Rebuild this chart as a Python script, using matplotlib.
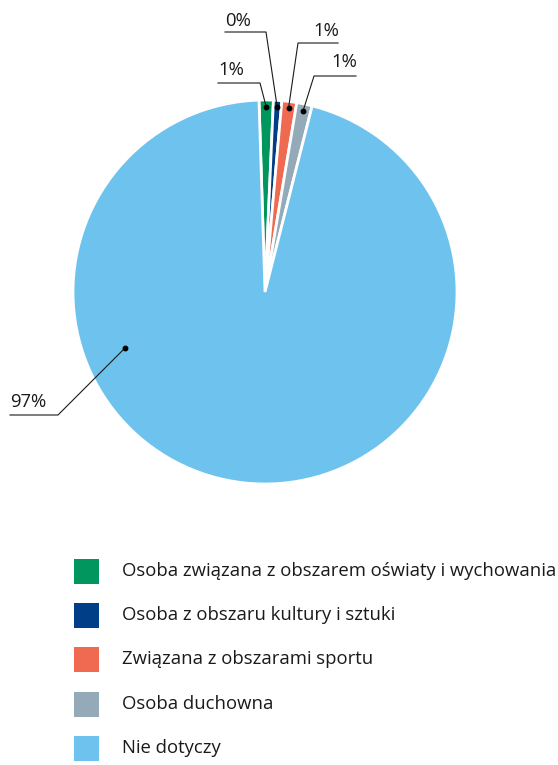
import matplotlib.pyplot as plt
from matplotlib.patches import Rectangle
import numpy as np

plt.rcParams['font.family'] = ['Open Sans', 'DejaVu Sans']

categories = ['Osoba związana z obszarem oświaty i wychowania',
              'Osoba z obszaru kultury i sztuki',
              'Związana z obszarami sportu',
              'Osoba duchowna',
              'Nie dotyczy']
values = [1.2, 0.7, 1.25, 1.3, 95.55]
pct_labels = ['1%', '0%', '1%', '1%', '97%']
colors = ['#00965e', '#003f87', '#ef6a50', '#94aab8', '#6dc2ee']

W, H = 558, 765
cx, cy, R = 265, 292, 192

fig = plt.figure(figsize=(W / 100, H / 100), dpi=100)
ax = fig.add_axes([(cx - R) / W, 1 - (cy + R) / H, 2 * R / W, 2 * R / H])
wedges, _ = ax.pie(values, colors=colors, startangle=91.8, counterclock=False,
                   radius=1, wedgeprops=dict(edgecolor='white', linewidth=2))
ax.set_xlim(-1, 1)
ax.set_ylim(-1, 1)
ax.set_aspect('equal')
ax.axis('off')


def d(px, py):
    # pixel -> data coords of the pie axes
    return (px - cx) / R, (cy - py) / R


# leader lines: (elbow px, end px, text anchor, ha)
leaders = [
    ((260, 83), (218, 83), (218, 75), 'left'),
    ((266, 32), (225, 32), (225, 26), 'left'),
    ((298, 43), (338, 43), (339, 36), 'right'),
    ((314, 76), (356, 76), (357, 67), 'right'),
]
lc = '#1a1a1a'
fs = 13.3
for i, (elb, end, tpos, ha) in enumerate(leaders):
    w = wedges[i]
    mid = np.deg2rad((w.theta1 + w.theta2) / 2)
    r = 0.965
    dx, dy = r * np.cos(mid), r * np.sin(mid)
    ex, ey = d(*elb)
    fx, fy = d(*end)
    ax.plot([dx, ex, fx], [dy, ey, fy], color=lc, lw=0.8, clip_on=False)
    ax.plot(dx, dy, 'o', color='black', ms=3.2, clip_on=False)
    tx, ty = d(*tpos)
    ax.text(tx, ty, pct_labels[i], ha=ha, va='baseline', fontsize=fs,
            color='#1a1a1a', clip_on=False)

# big slice label
dx, dy = d(125, 348)
ex, ey = d(58, 415)
fx, fy = d(10, 415)
ax.plot([dx, ex, fx], [dy, ey, fy], color=lc, lw=0.8, clip_on=False)
ax.plot(dx, dy, 'o', color='black', ms=3.2, clip_on=False)
tx, ty = d(10, 407)
ax.text(tx, ty, pct_labels[4], ha='left', va='baseline', fontsize=fs,
        color='#1a1a1a', clip_on=False)

# legend
row_y = [571, 615, 659, 704, 748]
for yy, lab, c in zip(row_y, categories, colors):
    fig.add_artist(Rectangle((74 / W, 1 - (yy + 12.5) / H), 25 / W, 25 / H,
                             transform=fig.transFigure, facecolor=c,
                             edgecolor='none'))
    fig.text(122 / W, 1 - yy / H, lab, ha='left', va='center', fontsize=fs,
             color='#1a1a1a')

fig.savefig('out.png', dpi=100, facecolor='white')
